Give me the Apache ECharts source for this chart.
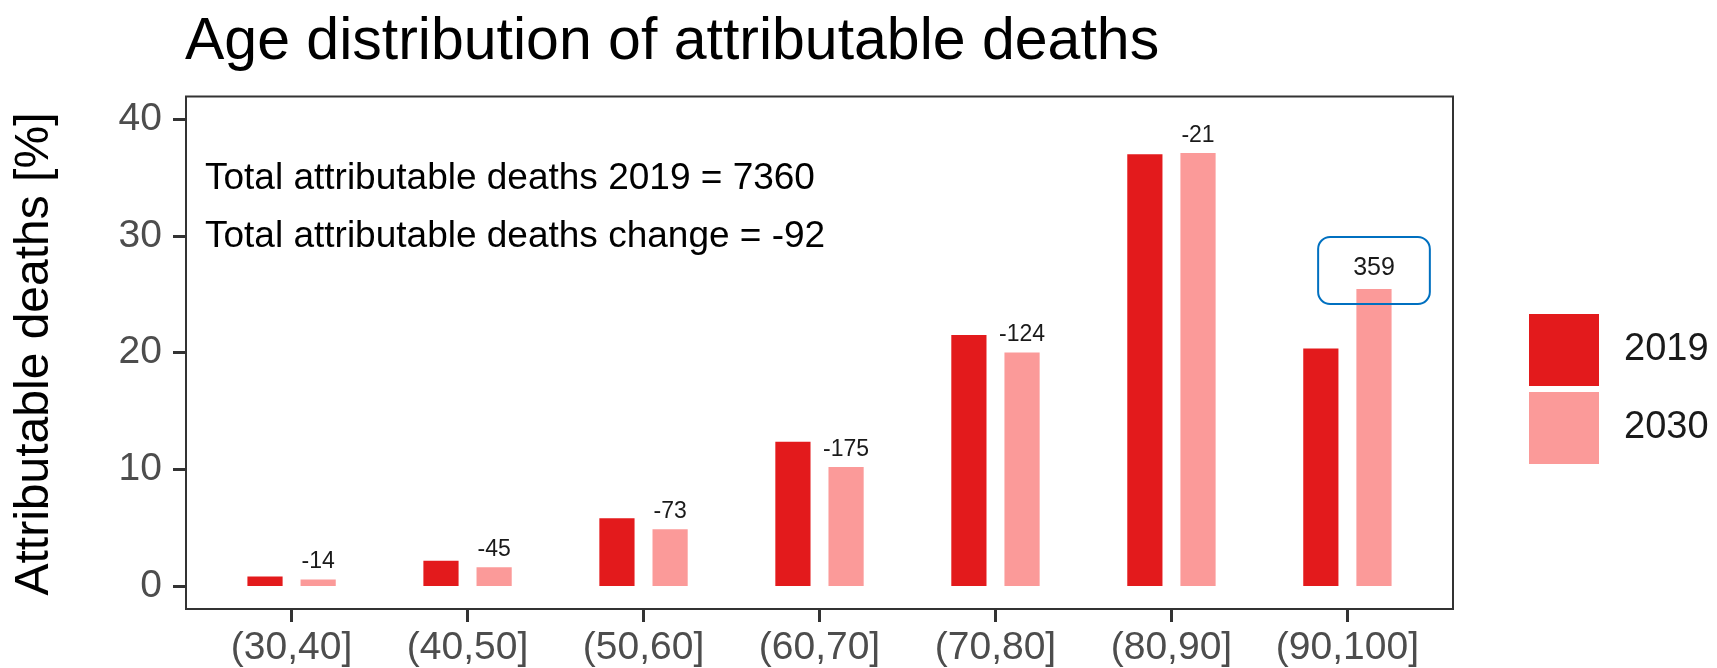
<!DOCTYPE html>
<html>
<head>
<meta charset="utf-8">
<script src="https://cdn.jsdelivr.net/npm/echarts@6/dist/echarts.min.js"></script>
<style>
html,body{margin:0;padding:0;background:#fff;}
#chart{width:1717px;height:668px;}
</style>
</head>
<body>
<div id="chart"></div>
<script>
const categories = ['(30,40]', '(40,50]', '(50,60]', '(60,70]', '(70,80]', '(80,90]', '(90,100]'];
const share2019 = [0.8, 2.15, 5.8, 12.35, 21.5, 37.0, 20.35];
const share2030 = [0.55, 1.6, 4.85, 10.2, 20.0, 37.1, 25.45];
const changes = [-14, -45, -73, -175, -124, -21, 359];
const yTicks = [0, 10, 20, 30, 40];
const seriesNames = ['2019', '2030'];
const titleText = 'Age distribution of attributable deaths';
const noteLines = ['Total attributable deaths 2019 = 7360', 'Total attributable deaths change = -92'];
const yTitle = 'Attributable deaths [%]';
const highlightIndex = 6;

const FONT = '"Liberation Sans", Arial, sans-serif';
const chart = echarts.init(document.getElementById('chart'), null, {renderer: 'canvas'});

// panel geometry (ggplot-like discrete expansion of 0.6 units each side)
const panelLeft = 186, panelRight = 1453, panelTop = 96.5, panelBottom = 609;
const panelW = panelRight - panelLeft;
const unit = panelW / (categories.length - 1 + 1.2);
const yMin = -1.98, yMax = 41.95;

const data2030 = share2030.map((v, i) => i === highlightIndex ? {
  value: v,
  label: {
    fontSize: 25,
    lineHeight: 25,
    borderColor: '#0070C0',
    borderWidth: 2,
    borderRadius: 12,
    padding: [19, 35, 23, 35],
    offset: [0, 21]
  }
} : v);

chart.setOption({
  backgroundColor: '#ffffff',
  animation: false,
  textStyle: {fontFamily: FONT},
  grid: [
    {left: panelLeft, top: panelTop, width: panelW, height: panelBottom - panelTop,
     show: true, borderColor: '#333333', borderWidth: 2, backgroundColor: 'transparent',
     outerBoundsMode: 'none', containLabel: false},
    {left: panelLeft + (0.6 - 0.5) * unit, top: panelTop, width: unit * categories.length,
     height: panelBottom - panelTop, outerBoundsMode: 'none', containLabel: false}
  ],
  xAxis: [
    {type: 'category', gridIndex: 0, data: categories, show: false},
    {type: 'category', gridIndex: 1, data: categories, boundaryGap: true, position: 'bottom',
     axisLine: {show: false, onZero: false},
     axisTick: {show: true, interval: 0, alignWithLabel: true, length: 13, lineStyle: {color: '#333333', width: 3}},
     axisLabel: {interval: 0, fontSize: 39, color: '#4D4D4D', margin: 20, fontFamily: FONT},
     splitLine: {show: false}}
  ],
  yAxis: [
    {type: 'value', gridIndex: 0, min: yMin, max: yMax,
     axisLine: {show: false},
     axisTick: {show: true, customValues: yTicks, length: 13, lineStyle: {color: '#333333', width: 3}},
     axisLabel: {customValues: yTicks, fontSize: 39, color: '#4D4D4D', margin: 24, fontFamily: FONT},
     splitLine: {show: false}},
    {type: 'value', gridIndex: 1, min: yMin, max: yMax, show: false, splitLine: {show: false}}
  ],
  legend: {
    orient: 'vertical', left: 1529, top: 314, padding: 0,
    itemWidth: 70, itemHeight: 72, itemGap: 6, itemStyle: {borderWidth: 0},
    icon: 'rect', data: seriesNames,
    textStyle: {fontSize: 38, color: '#1A1A1A', padding: [0, 0, 0, 20], fontFamily: FONT}
  },
  series: [
    {name: seriesNames[0], type: 'bar', xAxisIndex: 1, yAxisIndex: 1, data: share2019,
     barWidth: '20%', barGap: '51%', itemStyle: {color: '#E31A1C'}},
    {name: seriesNames[1], type: 'bar', xAxisIndex: 1, yAxisIndex: 1, data: data2030,
     barWidth: '20%', barGap: '51%', itemStyle: {color: '#FB9A99'},
     label: {show: true, position: 'top', distance: 6, fontSize: 23, color: '#1A1A1A',
       fontFamily: FONT, formatter: p => String(changes[p.dataIndex])}}
  ],
  graphic: [
    {type: 'text', left: 185, top: 13, style: {text: titleText, font: '59px ' + FONT, fill: '#000000'}},
    {type: 'text', x: 205, y: 179, style: {text: noteLines[0], font: '37px ' + FONT, fill: '#000000', textVerticalAlign: 'middle'}},
    {type: 'text', x: 205, y: 237, style: {text: noteLines[1], font: '37px ' + FONT, fill: '#000000', textVerticalAlign: 'middle'}},
    {type: 'text', x: 35, y: 354, rotation: Math.PI / 2,
     style: {text: yTitle, font: '48px ' + FONT, fill: '#000000', textAlign: 'center', textVerticalAlign: 'middle'}}
  ]
});
</script>
</body>
</html>
